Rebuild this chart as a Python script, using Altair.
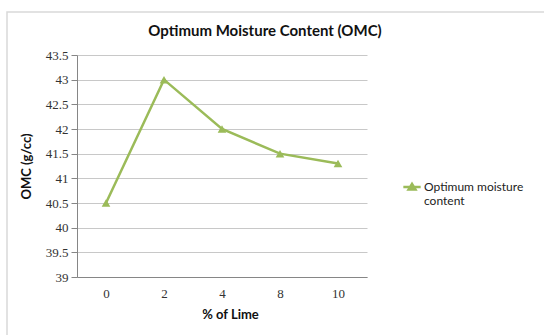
import altair as alt
import pandas as pd

lime = ["0", "2", "4", "8", "10"]
omc = [40.5, 43.0, 42.0, 41.5, 41.3]
series = "Optimum moisture content"
title_text = "Optimum Moisture Content (OMC)"
y_ticks = [39, 39.5, 40, 40.5, 41, 41.5, 42, 42.5, 43, 43.5]

df = pd.DataFrame({"lime": lime, "omc": omc, "series": [series] * len(lime)})

GREEN = "#9BBB59"

one = pd.DataFrame({"a": [0]})

frame = alt.Chart(one).mark_rect(
    fill=None, stroke="#d9d9d9", strokeWidth=1.5
).encode(
    x=alt.value(-70), x2=alt.value(520), y=alt.value(-43), y2=alt.value(320)
)

title = alt.Chart(one).mark_text(
    font="Lato", fontSize=15, fontWeight="bold", color="#111", align="center", baseline="middle"
).encode(x=alt.value(188), y=alt.value(-24), text=alt.value(title_text))

line = alt.Chart(df).mark_line(
    strokeWidth=2.5,
    point=alt.OverlayMarkDef(shape="triangle-up", size=75, filled=True, opacity=1),
).encode(
    x=alt.X("lime:N", sort=lime, title="% of Lime",
            scale=alt.Scale(paddingInner=0, paddingOuter=0.5),
            axis=alt.Axis(labelAngle=0, ticks=False, grid=False, labelPadding=10,
                          titlePadding=8, titleX=153)),
    y=alt.Y("omc:Q", title="OMC (g/cc)",
            scale=alt.Scale(domain=[39, 43.5], nice=False, zero=False),
            axis=alt.Axis(values=y_ticks, format=".1~f", tickSize=6, labelPadding=3,
                          titlePadding=12)),
    color=alt.Color("series:N", scale=alt.Scale(range=[GREEN]), title=None,
                    legend=alt.Legend(
                        orient="none", legendX=325, legendY=122,
                        symbolType="M-1,0H1M-0.4,0.3L0,-0.35L0.4,0.3Z",
                        symbolSize=300, symbolStrokeWidth=2.5,
                        symbolFillColor=GREEN, symbolStrokeColor=GREEN,
                        labelExpr="['Optimum moisture', 'content']",
                        labelFont="Lato", labelFontSize=12, labelColor="#222",
                        labelOffset=2, labelLimit=200)),
)

chart = alt.layer(frame, title, line).properties(
    width=290, height=222,
    background="white",
    autosize=alt.AutoSizeParams(type="none"),
    padding={"left": 77, "top": 55, "right": 177, "bottom": 58},
).configure_view(stroke=None).configure_axis(
    labelFont="Liberation Serif", labelFontSize=13, labelColor="#333",
    titleFont="Lato", titleFontSize=13, titleFontWeight="bold", titleColor="#111",
    domainColor="#868686", tickColor="#868686", gridColor="#c8c8c8",
)

chart.save("out.html", embed_options={"renderer": "svg", "actions": False})
